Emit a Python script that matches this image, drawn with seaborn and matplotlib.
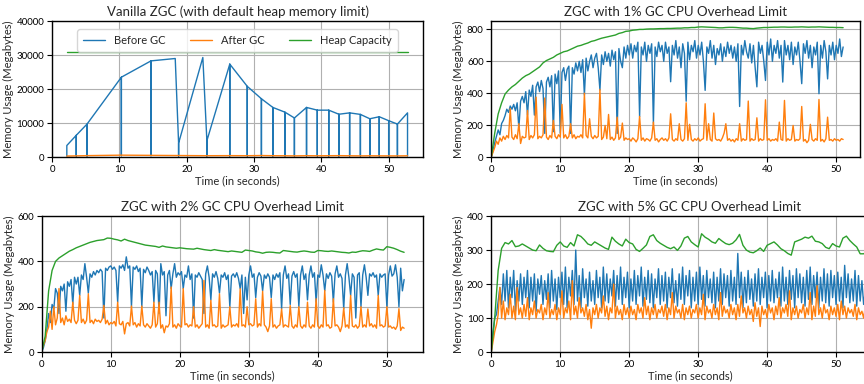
import numpy as np
import pandas as pd
import matplotlib
matplotlib.use("Agg")
import matplotlib.pyplot as plt
import seaborn as sns

# ---- Vanilla ZGC ----
vanilla_before_t = [2.2, 2.2, 3.6, 3.6, 3.6, 5.2, 5.2, 5.2, 10.3, 10.3, 10.3, 14.7, 14.7, 14.7,
                    18.3, 18.8, 18.8, 18.8, 22.4, 23.0, 23.0, 23.0, 26.4, 26.4, 26.4,
                    29.0, 29.0, 29.0, 31.1, 31.1, 31.1, 32.8, 32.8, 32.8, 34.6, 34.6, 34.6,
                    36.0, 36.0, 36.0, 37.8, 37.8, 37.8, 39.4, 39.4, 39.4, 41.1, 41.1, 41.1,
                    42.6, 42.6, 42.6, 44.2, 44.2, 44.2, 45.8, 45.8, 45.8, 47.2, 47.2, 47.2,
                    48.6, 48.6, 48.6, 50.0, 50.0, 50.0, 51.3, 51.3, 51.3, 52.8, 52.8]
vanilla_before = [300, 3400, 6400, 300, 6400, 9700, 300, 9700, 23500, 400, 23500, 28300, 400, 28300,
                  29000, 4100, 300, 4100, 29300, 4800, 300, 4800, 27350, 300, 27350,
                  20800, 300, 20800, 17150, 300, 17150, 14600, 300, 14600, 13200, 300, 13200,
                  11500, 300, 11500, 14600, 300, 14600, 13800, 300, 13800, 13800, 300, 13800,
                  12600, 300, 12600, 13000, 300, 13000, 12550, 300, 12550, 11270, 300, 11270,
                  11860, 300, 11860, 10700, 300, 10700, 9700, 300, 9700, 13000, 300]
vanilla_after_t = [2.2, 3.6, 5.2, 10.3, 14.7, 18.8, 23.0, 26.4, 29.0, 31.1, 32.8, 34.6, 36.0,
                   37.8, 39.4, 41.1, 42.6, 44.2, 45.8, 47.2, 48.6, 50.0, 51.3, 52.8]
vanilla_after = [300, 350, 420, 560, 500, 450, 400, 420, 400, 450, 400, 380, 350,
                 400, 380, 400, 420, 380, 350, 380, 360, 350, 340, 380]
vanilla_heap_t = [2.2, 52.8]
vanilla_heap = [30800, 30800]

# ---- 1% limit (0.25 s samples, 0 .. 51 s) ----
p1_end = 51.0
p1_before = [
    0, 40, 90, 130, 170, 140, 210, 230, 260, 300, 280, 320, 300, 330, 290, 340, 180, 350, 380, 340,
    410, 263, 420, 380, 450, 263, 440, 470, 410, 480, 430, 148, 470, 500, 440, 510, 159, 520, 460, 540,
    150, 530, 560, 480, 550, 570, 148, 560, 520, 590, 540, 600, 530, 610, 388, 620, 540, 600, 640, 560,
    620, 650, 560, 420, 640, 580, 660, 600, 650, 570, 670, 610, 660, 148, 680, 600, 560, 690, 620, 700,
    640, 710, 620, 700, 660, 720, 253, 690, 640, 720, 600, 700, 650, 710, 211, 690, 630, 720, 660, 700,
    600, 720, 650, 690, 472, 700, 640, 730, 620, 690, 560, 710, 650, 350, 720, 610, 700, 660, 730, 620,
    700, 640, 720, 600, 418, 690, 650, 730, 620, 700, 580, 680, 640, 710, 600, 690, 630, 720, 650, 700,
    620, 690, 600, 710, 317, 700, 640, 730, 660, 620, 710, 590, 700, 560, 440, 720, 650, 700, 600, 480,
    720, 640, 740, 600, 700, 650, 730, 620, 700, 470, 730, 640, 700, 610, 720, 580, 690, 640, 720, 600,
    460, 710, 650, 730, 620, 700, 560, 690, 640, 720, 397, 700, 620, 730, 660, 490, 700, 640, 720, 610,
    700, 650, 740, 630, 690]
p1_after = [
    0, 30, 60, 100, 80, 120, 100, 130, 110, 135, 120, 303, 125, 110, 140, 115, 209, 85, 130, 120,
    125, 292, 110, 135, 120, 140, 376, 115, 130, 120, 140, 370, 125, 110, 135, 120, 230, 130, 115, 140,
    125, 330, 120, 140, 115, 130, 209, 120, 140, 115, 130, 125, 140, 120, 400, 135, 120, 240, 130, 115,
    135, 120, 130, 424, 110, 125, 198, 115, 267, 110, 125, 105, 120, 250, 110, 125, 213, 105, 120, 110,
    115, 100, 120, 110, 95, 115, 255, 105, 120, 100, 115, 110, 100, 120, 219, 105, 115, 95, 110, 120,
    105, 115, 100, 120, 271, 110, 100, 115, 105, 209, 110, 100, 115, 340, 105, 205, 110, 100, 115, 105,
    120, 100, 110, 115, 334, 105, 209, 110, 100, 276, 115, 105, 110, 100, 120, 150, 209, 105, 115, 100,
    110, 95, 115, 105, 209, 100, 115, 105, 110, 351, 100, 115, 105, 110, 246, 100, 115, 105, 110, 359,
    105, 115, 100, 110, 105, 115, 100, 219, 110, 105, 355, 100, 115, 105, 110, 198, 100, 110, 105, 115,
    317, 100, 110, 90, 105, 205, 110, 100, 115, 105, 361, 100, 110, 95, 115, 250, 105, 110, 100, 115,
    105, 110, 100, 115, 110]
# heap capacity, 0.5 s samples
p1_heap = [
    0, 150, 270, 340, 395, 420, 440, 455, 475, 495, 510, 520, 535, 550, 565, 590, 605, 615, 625, 640,
    650, 660, 665, 675, 685, 695, 700, 708, 715, 725, 730, 738, 745, 750, 755, 760, 765, 775, 780, 788,
    790, 795, 797, 800, 800, 802, 803, 803, 804, 805, 805, 806, 806, 807, 808, 808, 810, 810, 812, 812,
    815, 816, 815, 814, 813, 812, 810, 810, 812, 813, 813, 812, 810, 808, 808, 806, 805, 808, 810, 812,
    812, 813, 814, 814, 815, 815, 814, 814, 815, 815, 816, 815, 814, 815, 815, 816, 815, 814, 813, 813,
    812, 812, 811]

# ---- 2% limit (0.25 s samples, 0 .. 52.5 s) ----
p2_end = 52.5
p2_before = [
    0, 20, 50, 100, 170, 130, 210, 190, 280, 260, 170, 290, 270, 300, 180, 310, 290, 320, 210, 330,
    300, 330, 250, 340, 320, 390, 330, 260, 345, 330, 355, 340, 360, 350, 365, 355, 150, 370, 360, 375,
    380, 365, 375, 360, 220, 380, 370, 385, 360, 420, 370, 380, 200, 375, 365, 380, 355, 370, 200, 365,
    350, 375, 360, 340, 355, 220, 360, 345, 170, 390, 340, 355, 160, 340, 360, 280, 345, 390, 330, 350,
    340, 355, 280, 340, 330, 380, 320, 345, 150, 340, 330, 350, 335, 320, 170, 345, 380, 330, 230, 345,
    330, 355, 325, 260, 340, 330, 350, 320, 340, 200, 335, 345, 330, 350, 325, 280, 340, 170, 330, 230,
    340, 380, 330, 345, 240, 330, 350, 335, 270, 340, 325, 345, 330, 240, 340, 320, 345, 330, 350, 190,
    340, 380, 325, 345, 210, 335, 355, 330, 345, 200, 340, 380, 320, 345, 230, 340, 380, 330, 350, 220,
    340, 330, 385, 340, 270, 345, 325, 350, 335, 220, 345, 380, 330, 345, 325, 190, 340, 390, 330, 250,
    345, 330, 150, 340, 350, 200, 340, 385, 330, 250, 345, 335, 350, 330, 340, 250, 345, 330, 340, 345,
    200, 340, 380, 335, 345, 385, 330, 200, 370, 270, 320]
p2_after = [
    10, 30, 50, 90, 110, 180, 100, 200, 120, 150, 280, 130, 150, 120, 160, 135, 145, 130, 220, 140,
    125, 140, 250, 130, 145, 125, 140, 257, 130, 140, 125, 145, 135, 140, 130, 145, 206, 125, 140, 120,
    130, 125, 135, 115, 220, 125, 120, 135, 80, 125, 130, 115, 203, 120, 130, 110, 125, 115, 203, 120,
    110, 125, 115, 105, 120, 220, 110, 125, 220, 105, 120, 85, 115, 110, 125, 287, 110, 120, 105, 125,
    115, 110, 280, 120, 125, 110, 120, 115, 200, 110, 120, 105, 115, 125, 316, 110, 120, 105, 228, 115,
    120, 110, 115, 257, 105, 120, 110, 115, 120, 200, 110, 120, 115, 125, 110, 279, 115, 120, 110, 200,
    120, 125, 115, 120, 235, 110, 125, 115, 268, 120, 110, 90, 115, 235, 110, 120, 105, 115, 120, 190,
    110, 120, 115, 110, 205, 115, 105, 120, 110, 200, 115, 105, 120, 110, 220, 115, 105, 120, 110, 235,
    115, 105, 120, 110, 272, 115, 120, 105, 110, 235, 115, 120, 110, 90, 115, 195, 110, 120, 105, 250,
    115, 110, 120, 105, 115, 200, 110, 120, 110, 190, 115, 125, 110, 120, 105, 250, 115, 120, 110, 115,
    200, 110, 115, 105, 110, 100, 115, 191, 95, 110, 105]
p2_heap = [
    0, 70, 270, 360, 400, 415, 425, 435, 445, 452, 460, 466, 472, 478, 484, 488, 492, 494, 496, 503,
    502, 498, 495, 490, 498, 492, 488, 484, 480, 476, 472, 470, 468, 466, 462, 468, 464, 462, 460, 458,
    460, 458, 456, 455, 454, 458, 455, 452, 450, 448, 452, 449, 447, 445, 443, 446, 444, 442, 440, 450,
    448, 446, 442, 440, 436, 440, 441, 440, 438, 437, 448, 446, 444, 442, 441, 444, 446, 444, 441, 440,
    448, 447, 445, 444, 446, 444, 442, 440, 439, 437, 441, 440, 444, 447, 446, 444, 450, 455, 452, 450,
    465, 462, 458, 452, 445, 440]

# ---- 5% limit (0.25 s samples, 0 .. 54.5 s) ----
p5_end = 54.5
p5_before = [
    0, 60, 100, 110, 150, 190, 140, 230, 150, 240, 130, 220, 160, 240, 120, 210, 150, 230, 140, 220,
    160, 240, 130, 220, 150, 230, 120, 215, 170, 225, 140, 210, 155, 230, 130, 240, 150, 215, 125, 220,
    160, 235, 140, 250, 130, 220, 165, 240, 140, 300, 150, 225, 130, 245, 160, 215, 135, 235, 150, 210,
    140, 240, 160, 220, 130, 250, 150, 230, 145, 215, 165, 240, 135, 225, 155, 250, 140, 220, 160, 235,
    130, 215, 150, 240, 140, 225, 165, 250, 135, 220, 155, 240, 145, 230, 130, 215, 160, 245, 140, 225,
    150, 235, 130, 220, 160, 245, 145, 210, 135, 230, 155, 250, 140, 225, 165, 240, 130, 220, 150, 235,
    140, 250, 155, 225, 135, 240, 160, 215, 145, 235, 130, 220, 150, 245, 140, 230, 160, 225, 135, 240,
    150, 220, 140, 290, 160, 235, 130, 220, 145, 240, 155, 215, 135, 230, 150, 245, 140, 220, 160, 235,
    130, 225, 150, 240, 145, 215, 160, 235, 135, 250, 150, 220, 140, 240, 155, 225, 130, 245, 160, 230,
    145, 220, 135, 240, 155, 250, 140, 225, 160, 235, 130, 220, 150, 245, 145, 230, 135, 240, 160, 225,
    140, 235, 150, 220, 130, 255, 160, 230, 145, 215, 150, 240, 135, 225, 150, 210, 140, 180, 160]
p5_after = [
    0, 30, 60, 80, 110, 190, 100, 150, 95, 130, 110, 170, 100, 135, 95, 190, 110, 130, 100, 140,
    105, 160, 95, 130, 110, 150, 100, 125, 115, 140, 95, 130, 110, 175, 100, 125, 110, 140, 95, 130,
    110, 180, 100, 130, 115, 150, 95, 210, 110, 135, 100, 160, 115, 130, 105, 140, 95, 125, 70, 130,
    110, 140, 100, 130, 115, 165, 105, 135, 95, 130, 115, 200, 100, 135, 110, 125, 95, 140, 110, 130,
    100, 135, 110, 125, 95, 140, 115, 130, 100, 160, 110, 135, 95, 130, 110, 140, 100, 125, 115, 135,
    105, 140, 95, 130, 110, 175, 100, 135, 115, 125, 100, 140, 95, 130, 110, 135, 100, 125, 115, 140,
    100, 130, 110, 170, 95, 135, 115, 125, 100, 140, 110, 130, 95, 175, 105, 135, 115, 125, 100, 140,
    110, 130, 95, 140, 105, 165, 115, 130, 100, 135, 110, 125, 90, 145, 105, 130, 75, 135, 110, 125,
    100, 140, 115, 130, 95, 135, 110, 160, 100, 130, 115, 140, 105, 180, 95, 130, 110, 135, 100, 125,
    115, 140, 100, 130, 110, 175, 95, 135, 105, 195, 110, 130, 100, 140, 115, 125, 95, 135, 110, 130,
    105, 140, 95, 150, 110, 135, 100, 130, 115, 125, 105, 140, 95, 130, 110, 120, 100, 135, 110]
p5_heap = [
    0, 100, 240, 305, 322, 318, 328, 310, 312, 318, 312, 306, 300, 298, 315, 305, 298, 296, 295, 314,
    324, 312, 308, 322, 312, 345, 340, 330, 318, 314, 324, 318, 312, 306, 302, 338, 326, 318, 312, 332,
    322, 318, 302, 296, 305, 315, 340, 345, 328, 320, 314, 308, 304, 309, 299, 312, 335, 340, 324, 316,
    309, 348, 338, 332, 324, 320, 334, 326, 319, 316, 320, 330, 346, 314, 300, 294, 292, 298, 306, 296,
    314, 319, 324, 315, 304, 298, 290, 285, 324, 328, 332, 338, 335, 341, 326, 324, 319, 308, 304, 319,
    312, 309, 335, 341, 328, 318, 309, 289, 289, 295]

BLUE, ORANGE, GREEN = "#1f77b4", "#ff7f0e", "#2ca02c"

sns.set_style("ticks")
plt.rcParams["font.family"] = ["Lato", "DejaVu Sans"]
plt.rcParams["axes.edgecolor"] = "black"
plt.rcParams["xtick.color"] = "black"
plt.rcParams["ytick.color"] = "black"

fig = plt.figure(figsize=(8.64, 3.84), dpi=100)
ax1 = fig.add_axes([0.0602, 0.591, 0.4294, 0.354])
ax2 = fig.add_axes([0.5686, 0.591, 0.4264, 0.354])
ax3 = fig.add_axes([0.0483, 0.0833, 0.441, 0.354])
ax4 = fig.add_axes([0.5686, 0.0833, 0.4597, 0.354])


def draw(ax, before, after, heap, end):
    tb = np.linspace(0, end, len(before))
    ta = np.linspace(0, end, len(after))
    th = np.linspace(0, end, len(heap))
    sns.lineplot(x=tb, y=before, ax=ax, color=BLUE, linewidth=1, estimator=None, sort=False)
    sns.lineplot(x=ta, y=after, ax=ax, color=ORANGE, linewidth=1, estimator=None, sort=False)
    sns.lineplot(x=th, y=heap, ax=ax, color=GREEN, linewidth=1, estimator=None, sort=False)


# vanilla
sns.lineplot(x=vanilla_before_t, y=vanilla_before, ax=ax1, color=BLUE, linewidth=1,
             estimator=None, sort=False, label="Before GC")
sns.lineplot(x=vanilla_after_t, y=vanilla_after, ax=ax1, color=ORANGE, linewidth=1,
             estimator=None, sort=False, label="After GC")
sns.lineplot(x=vanilla_heap_t, y=vanilla_heap, ax=ax1, color=GREEN, linewidth=1,
             estimator=None, sort=False, label="Heap Capacity")
ax1.legend(loc="upper center", ncol=3, fontsize=8, frameon=True, handlelength=2.0,
           columnspacing=2.2, borderpad=0.5, bbox_to_anchor=(0.5, 0.98))
ax1.set_xlim(0, 55.1)
ax1.set_ylim(0, 40000)
ax1.set_yticks([0, 10000, 20000, 30000, 40000])

draw(ax2, p1_before, p1_after, p1_heap, p1_end)
ax2.set_xlim(0, 53.4)
ax2.set_ylim(0, 852)
ax2.set_yticks([0, 200, 400, 600, 800])

draw(ax3, p2_before, p2_after, p2_heap, p2_end)
ax3.set_xlim(0, 55.2)
ax3.set_ylim(0, 600)
ax3.set_yticks([0, 200, 400, 600])

draw(ax4, p5_before, p5_after, p5_heap, p5_end)
ax4.set_xlim(0, 57.6)
ax4.set_ylim(0, 400)
ax4.set_yticks([0, 100, 200, 300, 400])

titles = ["Vanilla ZGC (with default heap memory limit)",
          "ZGC with 1% GC CPU Overhead Limit",
          "ZGC with 2% GC CPU Overhead Limit",
          "ZGC with 5% GC CPU Overhead Limit"]
for ax, title in zip([ax1, ax2, ax3, ax4], titles):
    ax.set_title(title, fontsize=9.5, pad=4)
    ax.set_xlabel("Time (in seconds)", fontsize=8, labelpad=1)
    ax.set_ylabel("Memory Usage (Megabytes)", fontsize=8, labelpad=2)
    ax.set_xticks([0, 10, 20, 30, 40, 50])
    ax.tick_params(labelsize=7, length=3.5, width=0.8, pad=2)
    ax.grid(True, color="#b0b0b0", linewidth=0.8)
    for s in ax.spines.values():
        s.set_linewidth(1.0)

fig.savefig("out.png", dpi=100)
